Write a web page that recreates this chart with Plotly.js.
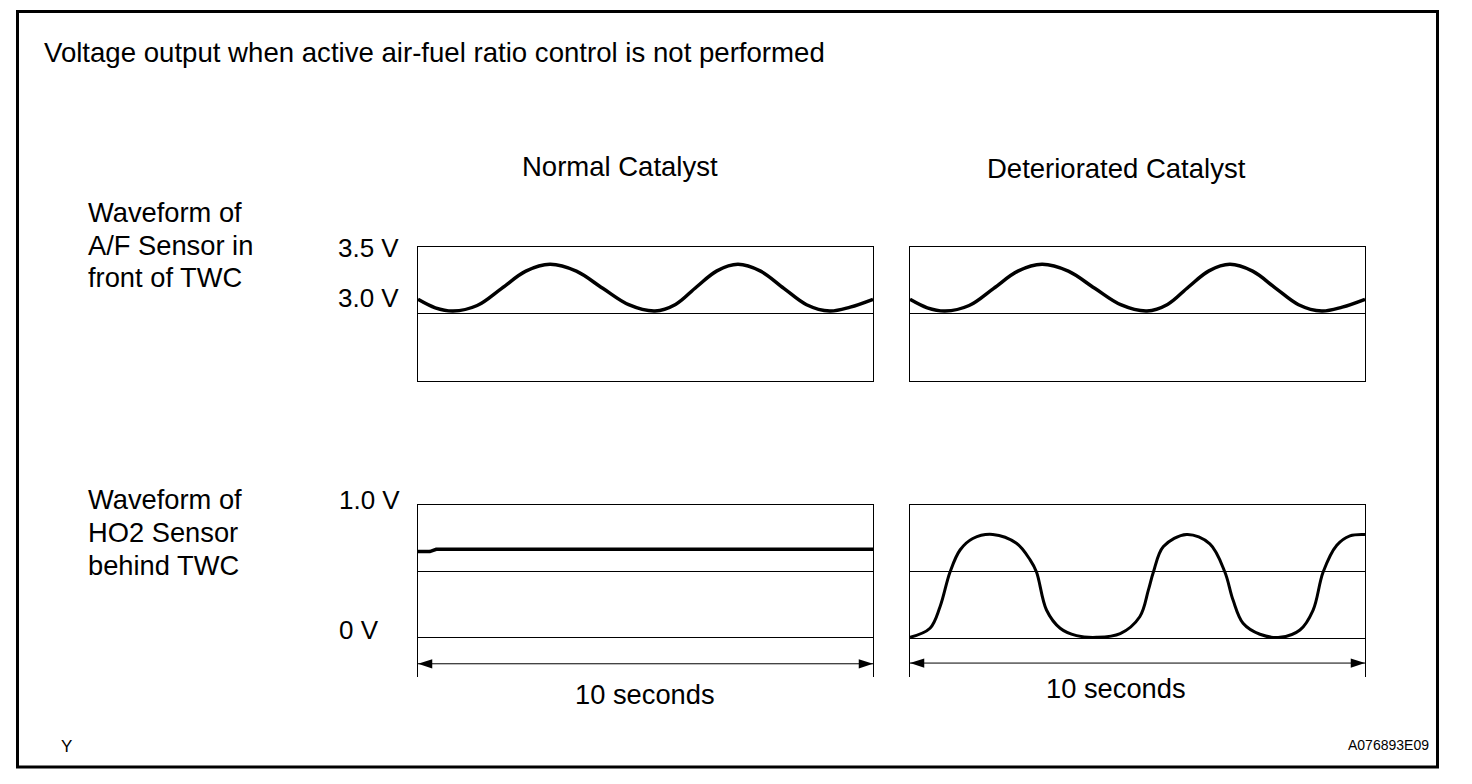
<!DOCTYPE html>
<html>
<head>
<meta charset="utf-8">
<script src="https://cdn.plot.ly/plotly-3.0.1.min.js"></script>
<style>
  html, body { margin: 0; padding: 0; background: #fff; }
  #chart { width: 1472px; height: 784px; }
</style>
</head>
<body>
<div id="chart"></div>
<script>
// ---------------- DATA ----------------
// A/F sensor in front of TWC (same for normal and deteriorated catalyst), seconds / volts
const afTime  = [0, 0.38, 0.77, 1.30, 1.84, 2.37, 2.90, 3.48, 4.06, 4.63, 5.21, 5.66, 6.12, 6.57, 7.03, 7.53, 8.04, 8.54, 9.05, 9.50, 10.0];
const afVolts = [3.108, 3.045, 3.021, 3.062, 3.190, 3.318, 3.369, 3.318, 3.190, 3.068, 3.021, 3.070, 3.200, 3.320, 3.369, 3.318, 3.190, 3.068, 3.021, 3.050, 3.108];

// HO2 sensor behind TWC - normal catalyst
const ho2NormTime  = [0, 0.26, 0.40, 10.0];
const ho2NormVolts = [0.648, 0.648, 0.665, 0.665];

// HO2 sensor behind TWC - deteriorated catalyst
const ho2DetTime  = [0, 0.44, 0.66, 0.88, 1.10, 1.38, 1.82, 2.34, 2.64, 2.78, 3.00, 3.30, 3.66, 4.10, 4.62, 5.05, 5.24, 5.35, 5.57, 6.08, 6.59, 6.92, 7.10, 7.32, 7.69, 8.13, 8.57, 8.86, 9.08, 9.38, 9.67, 10.0];
const ho2DetVolts = [0.012, 0.080, 0.240, 0.500, 0.664, 0.750, 0.780, 0.714, 0.590, 0.500, 0.216, 0.080, 0.025, 0.012, 0.040, 0.166, 0.366, 0.500, 0.690, 0.780, 0.710, 0.500, 0.290, 0.117, 0.035, 0.012, 0.067, 0.216, 0.500, 0.700, 0.770, 0.780];

// axis texts and reference levels
const afRange     = [2.5, 3.5];
const afRefLine   = [3.0];
const ho2NormRange = [-0.3, 1.0];
const ho2DetRange  = [-0.284, 1.0];
const ho2RefLines = [0, 0.5];
const arrowLevels = [-0.2, -0.18];
const afTickLabels  = [{v: 3.5, t: '3.5 V'}, {v: 3.0, t: '3.0 V'}];
const ho2TickLabels = [{v: 1.0, t: '1.0 V'}, {v: 0, t: '0 V'}];
const columnTitles = ['Normal Catalyst', 'Deteriorated Catalyst'];
const rowTitles = [['Waveform of', 'A/F Sensor in', 'front of TWC'], ['Waveform of', 'HO2 Sensor', 'behind TWC']];
const spanLabel = '10 seconds';
const mainTitle = 'Voltage output when active air-fuel ratio control is not performed';

// ---------------- LAYOUT HELPERS ----------------
const W = 1472, H = 784;
const px = v => v / W;
const py = v => 1 - v / H;
const FONT = 'Liberation Sans, Arial, Helvetica, sans-serif';

const colL = [px(418), px(873)];
const colR = [px(910), px(1365)];
const rowTop = [py(381), py(246.7)];
const rowBot = [py(677), py(505)];

function xAx(domain, anchor, top) {
  return {
    domain: domain, range: [afTime[0], afTime[afTime.length - 1]], anchor: anchor,
    showgrid: false, zeroline: false, showticklabels: false, ticks: '',
    showline: true, linecolor: '#000', linewidth: 1,
    mirror: top ? false : true, side: top ? 'top' : 'bottom', fixedrange: true
  };
}
function yAx(domain, anchor, range, grid) {
  return {
    domain: domain, range: range, anchor: anchor,
    tickvals: grid, showgrid: true, gridcolor: '#000', gridwidth: 1,
    zeroline: false, showticklabels: false, ticks: '',
    showline: true, linecolor: '#000', linewidth: 1, mirror: true, fixedrange: true
  };
}

const traces = [
  {x: afTime, y: afVolts, xaxis: 'x', yaxis: 'y', mode: 'lines', line: {color: '#000', width: 3.5, shape: 'spline', smoothing: 1}},
  {x: afTime, y: afVolts, xaxis: 'x2', yaxis: 'y2', mode: 'lines', line: {color: '#000', width: 3.5, shape: 'spline', smoothing: 1}},
  {x: ho2NormTime, y: ho2NormVolts, xaxis: 'x3', yaxis: 'y3', mode: 'lines', line: {color: '#000', width: 3.5}},
  {x: ho2DetTime, y: ho2DetVolts, xaxis: 'x4', yaxis: 'y4', mode: 'lines', line: {color: '#000', width: 3, shape: 'spline', smoothing: 1}}
];
// 10-second span arrows
[['x3', 'y3', ho2NormTime, arrowLevels[0]], ['x4', 'y4', ho2DetTime, arrowLevels[1]]].forEach(([xa, ya, t, lvl]) => {
  traces.push({
    x: [t[0], t[t.length - 1]], y: [lvl, lvl], xaxis: xa, yaxis: ya,
    mode: 'lines+markers', cliponaxis: false,
    line: {color: '#000', width: 1},
    marker: {symbol: 'arrow', size: 15, color: '#000', angle: [-90, 90], line: {width: 0}}
  });
});

const annotations = [];
function txt(text, x, y, size, xanchor) {
  annotations.push({text: text, xref: 'paper', yref: 'paper', x: px(x), y: py(y),
    xanchor: xanchor || 'left', yanchor: 'middle', showarrow: false,
    font: {family: FONT, size: size, color: '#000'}});
}
txt(mainTitle, 42, 52, 27.6);
txt(columnTitles[0], 620, 167, 27.5, 'center');
txt(columnTitles[1], 1116, 168, 27.5, 'center');
const rowY = [[212, 245, 277], [499, 532, 565]];
rowTitles.forEach((lines, r) => lines.forEach((l, i) => txt(l, 86, rowY[r][i], 27.3)));
const afLabY = {3.5: 248, 3.0: 298};
afTickLabels.forEach(o => txt(o.t, 336, afLabY[o.v], 26));
const ho2LabY = {1.0: 500, 0: 630};
ho2TickLabels.forEach(o => txt(o.t, 337, ho2LabY[o.v], 26));
txt(spanLabel, 645, 694, 27.3, 'center');
txt(spanLabel, 1116, 688, 27.3, 'center');
txt('Y', 66, 746, 17, 'center');
txt('A076893E09', 1431, 745, 14, 'right');

const layout = {
  width: W, height: H, margin: {l: 0, r: 0, t: 0, b: 0},
  paper_bgcolor: '#fff', plot_bgcolor: '#fff', showlegend: false, hovermode: false,
  xaxis: xAx(colL, 'y', false), yaxis: yAx(rowTop, 'x', afRange, afRefLine),
  xaxis2: xAx(colR, 'y2', false), yaxis2: yAx(rowTop, 'x2', afRange, afRefLine),
  xaxis3: xAx(colL, 'y3', true), yaxis3: yAx(rowBot, 'x3', ho2NormRange, ho2RefLines),
  xaxis4: xAx(colR, 'y4', true), yaxis4: yAx(rowBot, 'x4', ho2DetRange, ho2RefLines),
  annotations: annotations,
  shapes: [{type: 'rect', xref: 'paper', yref: 'paper', x0: px(17.5), x1: px(1437.5), y0: py(767), y1: py(11.5),
            line: {color: '#000', width: 3}, fillcolor: 'rgba(0,0,0,0)'}]
};

Plotly.newPlot('chart', traces, layout, {displayModeBar: false, staticPlot: true});
</script>
</body>
</html>
